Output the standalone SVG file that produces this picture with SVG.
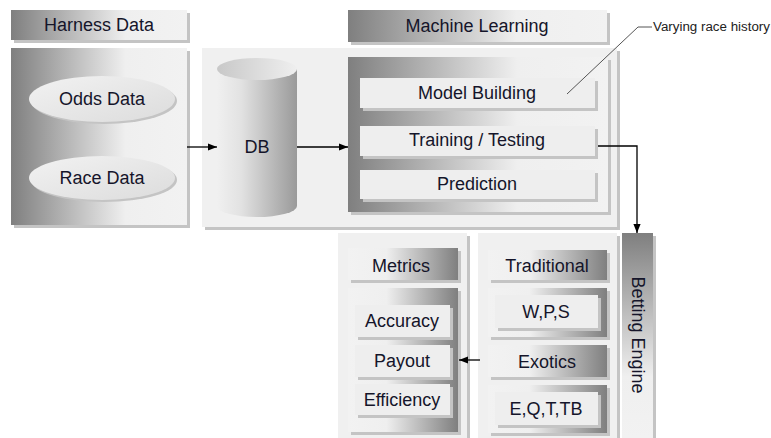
<svg xmlns="http://www.w3.org/2000/svg" width="771" height="438" viewBox="0 0 771 438">
<defs>
<linearGradient id="gLR" x1="0" y1="0" x2="1" y2="0"><stop offset="0" stop-color="#7f7f7f"/><stop offset="0.65" stop-color="#efefef"/><stop offset="1" stop-color="#f2f2f2"/></linearGradient>
<linearGradient id="gRL" x1="0" y1="0" x2="1" y2="0"><stop offset="0" stop-color="#f2f2f2"/><stop offset="0.35" stop-color="#efefef"/><stop offset="1" stop-color="#7f7f7f"/></linearGradient>
<linearGradient id="gTB" x1="0" y1="0" x2="0" y2="1"><stop offset="0" stop-color="#7f7f7f"/><stop offset="0.7" stop-color="#efefef"/><stop offset="1" stop-color="#f2f2f2"/></linearGradient>
<linearGradient id="gCyl" x1="0" y1="0" x2="1" y2="0"><stop offset="0" stop-color="#f0f0f0"/><stop offset="0.3" stop-color="#e2e2e2"/><stop offset="1" stop-color="#9a9a9a"/></linearGradient>
<linearGradient id="gCylTop" x1="0" y1="0" x2="1" y2="0"><stop offset="0" stop-color="#c8c8c8"/><stop offset="1" stop-color="#efefef"/></linearGradient>
<linearGradient id="gEll" x1="0" y1="0" x2="1" y2="1"><stop offset="0" stop-color="#f2f2f2"/><stop offset="1" stop-color="#dcdcdc"/></linearGradient>
<marker id="ah" viewBox="0 0 10 10" refX="10" refY="5" markerWidth="7" markerHeight="7" orient="auto-start-reverse"><path d="M0,1 L10,5 L0,9 z" fill="#000"/></marker>
</defs>
<style>
.t{font-family:"Liberation Sans",Arial,sans-serif;font-size:18px;fill:#15152a;text-anchor:middle;dominant-baseline:central}
.sh{fill:#c4c4c4}
.lt{fill:#f0f0f0}
.box{fill:#eeeeee}
.cn{stroke:#000;stroke-width:1.3;fill:none}
</style>
<rect width="771" height="438" fill="#fff"/>

<g id="harness-header"><rect class="sh" x="14" y="13" width="176" height="30"/><rect x="11" y="10" width="176" height="30" fill="url(#gLR)"/><text class="t" x="99" y="25">Harness Data</text></g>
<g id="harness"><rect class="sh" x="14" y="51" width="176" height="177"/><rect x="11" y="48" width="176" height="177" fill="url(#gLR)"/></g>
<g id="odds"><ellipse cx="104" cy="101" rx="73" ry="23" fill="#c4c4c4"/><ellipse cx="102" cy="99" rx="73" ry="23" fill="url(#gEll)"/><text class="t" x="102" y="99">Odds Data</text></g>
<g id="race"><ellipse cx="104" cy="180" rx="73" ry="22" fill="#c4c4c4"/><ellipse cx="102" cy="178" rx="73" ry="22" fill="url(#gEll)"/><text class="t" x="102" y="178">Race Data</text></g>

<g id="ml-container"><rect class="sh" x="205" y="51" width="415" height="179"/><rect class="lt" x="202" y="48" width="415" height="179"/></g>
<g id="db"><path d="M217,69 L217,206 A40,11 0 0 0 297,206 L297,69 Z" fill="url(#gCyl)"/><ellipse cx="257" cy="69" rx="40" ry="11" fill="url(#gCylTop)"/><text class="t" x="257" y="147">DB</text></g>

<g id="ml-header"><rect class="sh" x="351" y="13" width="259" height="32"/><rect x="348" y="10" width="259" height="32" fill="url(#gLR)"/><text class="t" x="477" y="26">Machine Learning</text></g>
<g id="ml"><rect class="sh" x="351" y="60" width="260" height="155"/><rect x="348" y="57" width="260" height="155" fill="url(#gLR)"/></g>
<g id="model"><rect class="sh" x="363" y="81" width="235" height="30"/><rect class="box" x="360" y="78" width="235" height="30"/><text class="t" x="477" y="93">Model Building</text></g>
<g id="training"><rect class="sh" x="363" y="129" width="235" height="30"/><rect class="box" x="360" y="126" width="235" height="30"/><text class="t" x="477" y="140">Training / Testing</text></g>
<g id="prediction"><rect class="sh" x="363" y="173" width="235" height="29"/><rect class="box" x="360" y="170" width="235" height="29"/><text class="t" x="477" y="184">Prediction</text></g>

<g id="betting"><rect class="sh" x="625" y="236" width="31" height="205"/><rect x="622" y="233" width="31" height="205" fill="url(#gTB)"/><text class="t" transform="translate(638,335) rotate(90)">Betting Engine</text></g>

<g id="bet-container"><rect class="sh" x="481" y="236" width="139" height="205"/><rect class="lt" x="478" y="233" width="139" height="205"/></g>
<g id="traditional"><rect class="sh" x="491" y="253" width="119" height="30"/><rect x="488" y="250" width="119" height="30" fill="url(#gRL)"/><text class="t" x="547" y="266">Traditional</text></g>
<g id="wps"><rect class="sh" x="491" y="291" width="119" height="49"/><rect x="488" y="288" width="119" height="49" fill="url(#gRL)"/><rect class="sh" x="498" y="298" width="103" height="33"/><rect class="box" x="495" y="295" width="103" height="33"/><text class="t" x="546" y="312">W,P,S</text></g>
<g id="exotics"><rect class="sh" x="491" y="348" width="119" height="32"/><rect x="488" y="345" width="119" height="32" fill="url(#gRL)"/><text class="t" x="547" y="362">Exotics</text></g>
<g id="eqt"><rect class="sh" x="491" y="388" width="119" height="48"/><rect x="488" y="385" width="119" height="48" fill="url(#gRL)"/><rect class="sh" x="498" y="395" width="103" height="33"/><rect class="box" x="495" y="392" width="103" height="33"/><text class="t" x="546" y="409">E,Q,T,TB</text></g>

<g id="metrics-container"><rect class="sh" x="341" y="236" width="129" height="205"/><rect class="lt" x="338" y="233" width="129" height="205"/></g>
<g id="metrics-header"><rect class="sh" x="351" y="251" width="110" height="32"/><rect x="348" y="248" width="110" height="32" fill="url(#gRL)"/><text class="t" x="401" y="266">Metrics</text></g>
<g id="metrics"><rect class="sh" x="351" y="291" width="110" height="144"/><rect x="348" y="288" width="110" height="144" fill="url(#gRL)"/></g>
<g id="accuracy"><rect class="sh" x="358" y="308" width="95" height="32"/><rect class="box" x="355" y="305" width="95" height="32"/><text class="t" x="402" y="321">Accuracy</text></g>
<g id="payout"><rect class="sh" x="358" y="348" width="95" height="32"/><rect class="box" x="355" y="345" width="95" height="32"/><text class="t" x="402" y="361">Payout</text></g>
<g id="efficiency"><rect class="sh" x="358" y="387" width="95" height="31"/><rect class="box" x="355" y="384" width="95" height="31"/><text class="t" x="402" y="400">Efficiency</text></g>

<g id="annotation"><path d="M567,94 L638,27 L652,27" stroke="#555" stroke-width="1" fill="none"/><text x="653" y="27" font-family="'Liberation Sans',Arial,sans-serif" font-size="12" textLength="117" lengthAdjust="spacingAndGlyphs" fill="#222" dominant-baseline="central">Varying race history</text></g>

<g id="connectors">
<path class="cn" d="M187,147 L217,147" marker-end="url(#ah)"/>
<path class="cn" d="M297,147 L348,147" marker-end="url(#ah)"/>
<path class="cn" d="M598,146 L637,146 L637,233" marker-end="url(#ah)"/>
<path class="cn" d="M480,360 L459,360" marker-end="url(#ah)"/>
</g>
</svg>
